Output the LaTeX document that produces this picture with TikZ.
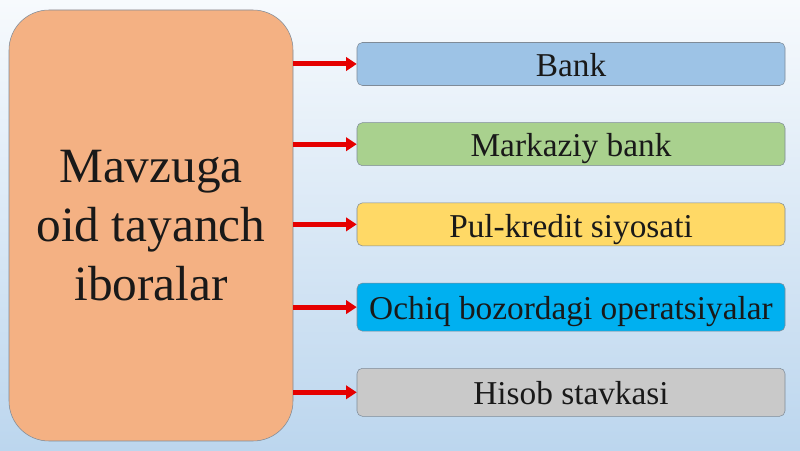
\documentclass[tikz,border=0pt]{standalone}
\usepackage{fontspec}
\setmainfont{Liberation Serif}
\usetikzlibrary{shapes, arrows.meta, positioning}

\definecolor{bgtop}{HTML}{F7FAFD}
\definecolor{bgbot}{HTML}{BCD6EE}
\definecolor{topicfill}{HTML}{F4B183}
\definecolor{bankfill}{HTML}{9DC3E6}
\definecolor{cbfill}{HTML}{A9D18E}
\definecolor{pkfill}{HTML}{FFD966}
\definecolor{opfill}{HTML}{00B0F0}
\definecolor{hsfill}{HTML}{C9C9C9}
\definecolor{edge}{HTML}{7F8B98}

\begin{document}
\begin{tikzpicture}[x=0.75pt, y=0.75pt, node distance=27.5pt,
    topic/.style={rectangle, draw=edge, fill=topicfill, rounded corners=30pt, minimum width=213pt, minimum height=323.25pt, align=center, text=black!90, font=\fontsize{37}{44}\selectfont},
    term/.style={rectangle, draw=edge, rounded corners=4pt, minimum width=321pt, minimum height=32.25pt, inner sep=2pt, text height=19pt, text depth=0pt, text=black!90, font=\fontsize{25}{30}\selectfont},
    tall/.style={minimum height=36pt},
    link/.style={draw=red!90!black, line width=3.75pt, -{Triangle[length=8pt, width=10pt]}}
]

    % Background
    \shade[top color=bgtop, bottom color=bgbot] (0,0) rectangle (800,450);
    \useasboundingbox (0,0) rectangle (800,450);

    % Main topic
    \node [topic] (topic) at (151,224.5) {Mavzuga\\oid tayanch\\iboralar};

    % Terms
    \node [term, fill=bankfill] (bank) at (571,386) {Bank};
    \node [term, fill=cbfill, below=of bank] (cbank) {Markaziy bank};
    \node [term, fill=pkfill, below=of cbank] (policy) {Pul-kredit siyosati};
    \node [term, tall, fill=opfill, below=of policy] (openmkt) {Ochiq bozordagi operatsiyalar};
    \node [term, tall, fill=hsfill, below=of openmkt] (rate) {Hisob stavkasi};

    % Connections
    \path [link] (topic.east |- bank) -- (bank);
    \path [link] (topic.east |- cbank) -- (cbank);
    \path [link] (topic.east |- policy) -- (policy);
    \path [link] (topic.east |- openmkt) -- (openmkt);
    \path [link] (topic.east |- rate) -- (rate);
\end{tikzpicture}
\end{document}
